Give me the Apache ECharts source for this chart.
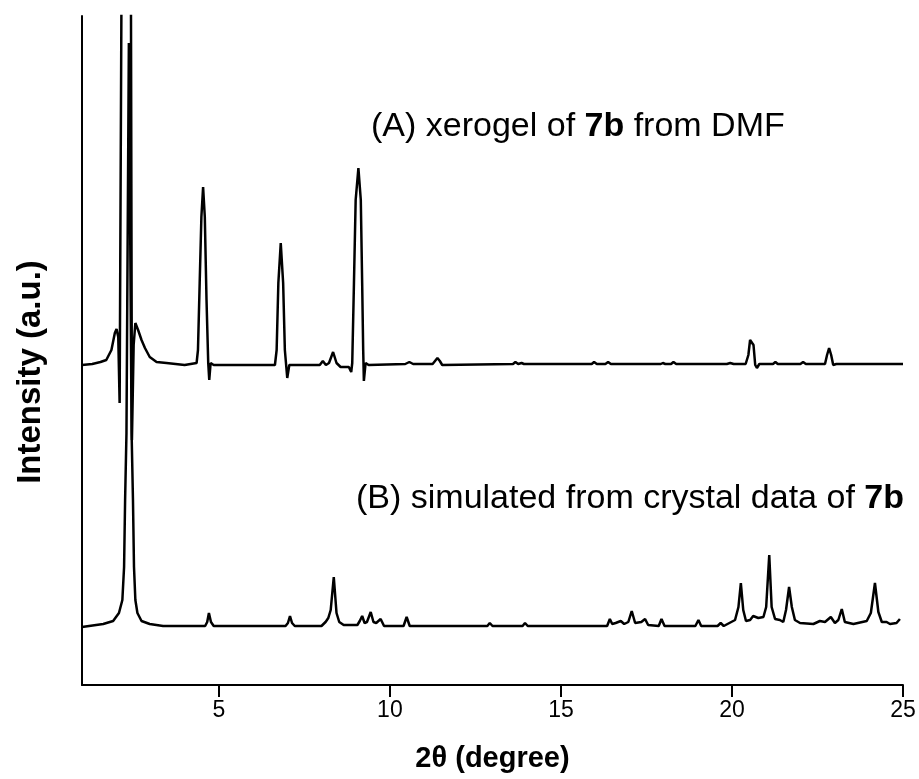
<!DOCTYPE html>
<html>
<head>
<meta charset="utf-8">
<script src="https://cdn.jsdelivr.net/npm/echarts@6/dist/echarts.min.js"></script>
<style>html,body{margin:0;padding:0;background:#fff}#c{width:919px;height:779px}</style>
</head>
<body>
<div id="c"></div>
<script>
// Pattern (A): xerogel of 7b from DMF (offset trace, arbitrary units)
const xA = [1.0,1.3,1.54,1.71,1.86,1.96,2.01,2.06,2.1,2.155,2.29,2.43,2.46,2.51,2.56,2.64,2.74,2.84,2.98,3.18,3.47,4.0,4.35,4.39,4.44,4.49,4.54,4.59,4.64,4.69,4.72,4.76,4.85,6.64,6.66,6.69,6.74,6.81,6.88,6.93,7.0,7.06,7.95,8.04,8.13,8.22,8.34,8.44,8.56,8.8,8.87,8.9,8.95,9.0,9.08,9.15,9.19,9.22,9.24,9.29,9.38,10.45,10.57,10.68,11.25,11.32,11.39,11.46,11.53,13.6,13.67,13.75,13.85,13.92,15.9,15.97,16.05,16.3,16.38,16.46,17.92,17.98,18.05,18.22,18.29,18.37,19.85,19.95,20.05,20.4,20.48,20.53,20.58,20.63,20.68,20.73,20.8,21.2,21.27,21.34,22.0,22.08,22.16,22.72,22.78,22.84,22.9,22.96,23.05,25.0];
const yA = [320,321,323,325,335,352,356,348,282,700,1400,700,245,340,362,355,345,337,328,323,322,320,322,335,402,468,498,468,385,322,305,322,320,320,318,335,402,442,402,335,307,320,320,324,320,322,333,322,318,318,313,322,402,485,517,485,402,335,304,322,320,321,323,321,321,324,327,324,320,321,323,321,322,321,321,323,321,321,323,321,321,322,321,321,323,321,321,322,321,321,330,345,347,340,320,317,321,321,323,321,321,323,321,321,330,337,330,320,321,321];

// Pattern (B): simulated from crystal data of 7b
const xB = [1.0,1.62,1.91,2.08,2.18,2.23,2.26,2.3,2.37,2.45,2.49,2.52,2.56,2.62,2.74,2.98,3.37,3.86,4.6,4.66,4.71,4.77,4.85,6.95,7.02,7.08,7.14,7.22,8.0,8.12,8.2,8.27,8.36,8.44,8.52,8.65,9.05,9.12,9.19,9.26,9.33,9.44,9.52,9.6,9.73,9.83,10.4,10.49,10.58,12.85,12.92,13.0,13.88,13.95,14.03,16.35,16.43,16.5,16.6,16.75,16.85,16.97,17.07,17.17,17.35,17.46,17.55,17.86,17.94,18.03,18.93,19.02,19.1,19.58,19.67,19.76,20.09,20.19,20.26,20.33,20.41,20.53,20.62,20.77,20.92,21.0,21.09,21.16,21.26,21.4,21.5,21.58,21.67,21.75,21.84,21.99,22.38,22.57,22.62,22.72,22.89,23.01,23.11,23.21,23.3,23.55,23.94,24.06,24.18,24.28,24.38,24.52,24.62,24.81,24.91];
const yB = [58,61,64,72,85,118,185,252,642,252,185,118,85,72,64,61,59,59,59,63,72,63,59,59,62,69,62,59,59,63,67,75,108,72,63,60,60,64,69,62,63,73,63,62,66,59,59,68,59,59,62,59,59,62,59,59,66,61,62,64,61,63,74,62,63,66,60,59,66,59,59,65,59,59,62,59,65,78,102,75,64,65,69,67,68,78,130,78,66,65,63,75,98,78,65,62,61,64,64,63,68,62,65,76,63,61,64,72,102,73,63,63,61,62,66];

const xTicks = [5, 10, 15, 20, 25];
const labelA = ['(A) xerogel of ', '7b', ' from DMF'];
const labelB = ['(B) simulated from crystal data of ', '7b'];
const xName = '2\u03b8 (degree)';
const yName = 'Intensity (a.u.)';

const seriesA = xA.map((x, i) => [x, yA[i]]);
const seriesB = xB.map((x, i) => [x, yB[i]]);

const FONT = 'Liberation Sans, Arial, sans-serif';
const chart = echarts.init(document.getElementById('c'), null, {renderer: 'canvas'});
const richTxt = {
  n: {fontFamily: FONT, fontSize: 34, fontWeight: 'normal', color: '#000'},
  b: {fontFamily: FONT, fontSize: 34, fontWeight: 'bold', color: '#000'}
};
chart.setOption({
  animation: false,
  backgroundColor: '#fff',
  title: [
    {text: '{n|' + labelA[0] + '}{b|' + labelA[1] + '}{n|' + labelA[2] + '}', left: 371, top: 110, padding: 0,
     textStyle: {fontWeight: 'normal', fontSize: 34, rich: richTxt}},
    {text: '{n|' + labelB[0] + '}{b|' + labelB[1] + '}', left: 356, top: 482, padding: 0,
     textStyle: {fontWeight: 'normal', fontSize: 34, rich: richTxt}}
  ],
  graphic: [
    {type: 'text', x: 31, y: 372, rotation: Math.PI / 2,
     style: {text: yName, fontFamily: FONT, fontSize: 33, fontWeight: 'bold', fill: '#000',
             align: 'center', verticalAlign: 'middle'}}
  ],
  grid: {left: 82, right: 16, top: 16, bottom: 94, containLabel: false},
  xAxis: {
    type: 'value', min: 1, max: 25,
    name: xName, nameLocation: 'middle', nameGap: 59,
    nameTextStyle: {fontFamily: FONT, fontSize: 29, fontWeight: 'bold', color: '#000'},
    axisLine: {show: true, onZero: false, lineStyle: {color: '#000', width: 2}},
    axisTick: {show: true, inside: false, length: 12, customValues: xTicks, lineStyle: {color: '#000', width: 2}},
    axisLabel: {show: true, customValues: xTicks, margin: 14, fontFamily: FONT, fontSize: 23, color: '#000'},
    splitLine: {show: false}
  },
  yAxis: {
    type: 'value', min: 0, max: 669,
    axisLine: {show: true, lineStyle: {color: '#000', width: 2}},
    axisTick: {show: false},
    axisLabel: {show: false},
    splitLine: {show: false}
  },
  series: [
    {name: 'A', type: 'line', data: seriesA, showSymbol: false, clip: true,
     lineStyle: {color: '#000', width: 2.5}, z: 3},
    {name: 'B', type: 'line', data: seriesB, showSymbol: false, clip: true,
     lineStyle: {color: '#000', width: 2.5}, z: 3}
  ]
});
</script>
</body>
</html>
